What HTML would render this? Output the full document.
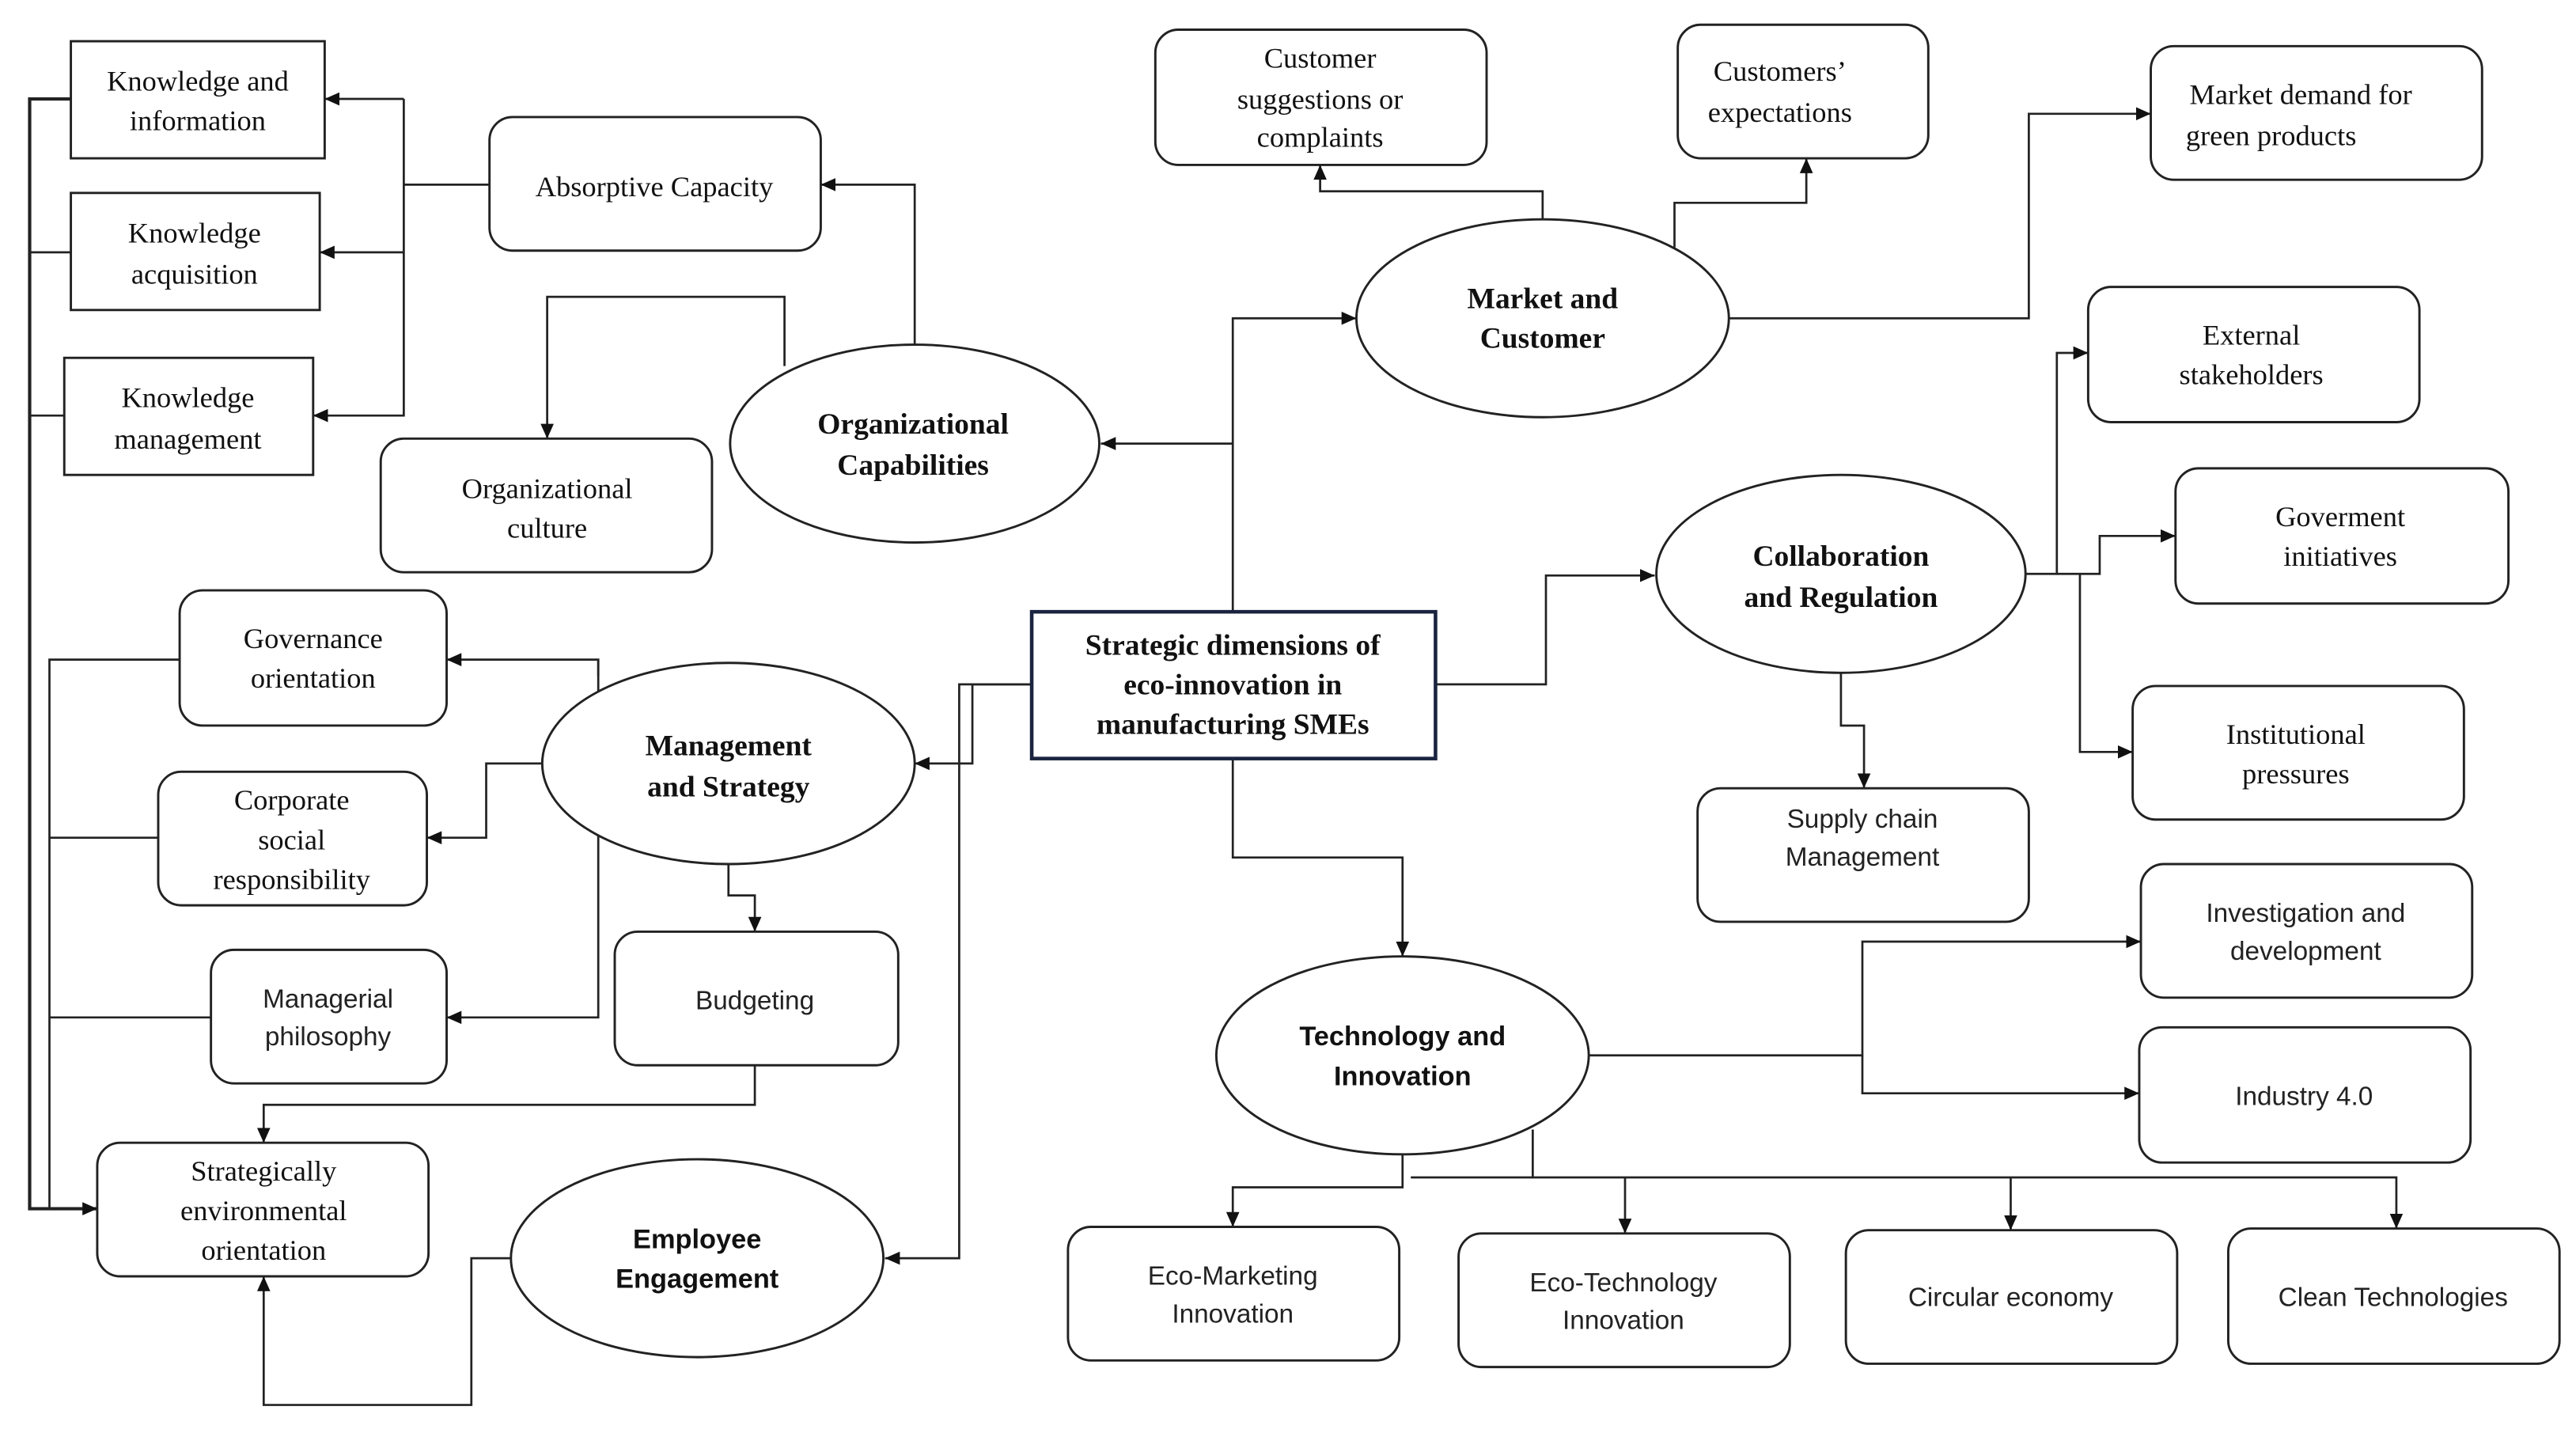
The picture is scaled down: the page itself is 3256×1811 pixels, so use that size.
<!DOCTYPE html>
<html><head><meta charset="utf-8"><style>
html,body{margin:0;padding:0;background:#fff;}
svg{display:block;}
.s{font-family:"Liberation Serif",serif;font-size:17.5px;fill:#111;}
.sb{font-family:"Liberation Serif",serif;font-size:18px;font-weight:bold;fill:#111;}
.a{font-family:"Liberation Sans",sans-serif;font-size:16px;fill:#222;}
.ab{font-family:"Liberation Sans",sans-serif;font-size:16.5px;font-weight:bold;fill:#111;}
rect,ellipse{fill:#fff;stroke:#222;stroke-width:1.4;}
path{fill:none;stroke:#222;stroke-width:1.3;}
</style></head><body>
<svg width="3256" height="1811" viewBox="0 0 1563 869" preserveAspectRatio="none" xmlns="http://www.w3.org/2000/svg">
<defs><marker id="m" markerWidth="10" markerHeight="10" refX="9" refY="5" orient="auto" markerUnits="userSpaceOnUse"><path d="M0,1 L9,5 L0,9 Z" style="fill:#111;stroke:none"/></marker></defs>
<g text-anchor="middle">
<path d="M297,112 H245"/>
<path d="M245,60 V252 H190" marker-end="url(#m)"/>
<path d="M245,60 H197" marker-end="url(#m)"/>
<path d="M245,153 H194" marker-end="url(#m)"/>
<path d="M555,210 V112 H498" marker-end="url(#m)"/>
<path d="M476,222 V180 H332 V266" marker-end="url(#m)"/>
<path d="M43,60 H18 V733 H59" marker-end="url(#m)" style="stroke-width:2"/>
<path d="M43,153 H18 M39,252 H18"/>
<path d="M109,400 H30 V733 M96,508 H30 M128,617 H30"/>
<path d="M363,410 V400 H271" marker-end="url(#m)"/>
<path d="M363,400 V617 H271" marker-end="url(#m)"/>
<path d="M330,463 H295 V508 H259" marker-end="url(#m)"/>
<path d="M442,524 V543 H458 V565" marker-end="url(#m)"/>
<path d="M458,646 V670 H160 V693" marker-end="url(#m)"/>
<path d="M311,763 H286 V852 H160 V774" marker-end="url(#m)"/>
<path d="M626,415 H590 V463 H555" marker-end="url(#m)"/>
<path d="M626,415 H582 V763 H537" marker-end="url(#m)"/>
<path d="M748,371 V269 H668" marker-end="url(#m)"/>
<path d="M748,269 V193 H823" marker-end="url(#m)"/>
<path d="M748,460 V520 H851 V580" marker-end="url(#m)"/>
<path d="M871,415 H938 V349 H1004" marker-end="url(#m)"/>
<path d="M936,133 V116 H801 V100" marker-end="url(#m)"/>
<path d="M1016,150 V123 H1096 V96" marker-end="url(#m)"/>
<path d="M1049,193 H1231 V69 H1305" marker-end="url(#m)"/>
<path d="M1229,348 H1248 V214 H1267" marker-end="url(#m)"/>
<path d="M1248,348 H1274 V325 H1320" marker-end="url(#m)"/>
<path d="M1262,348 V456 H1294" marker-end="url(#m)"/>
<path d="M1117,408 V440 H1131 V478" marker-end="url(#m)"/>
<path d="M964,640 H1130 V571 H1299" marker-end="url(#m)"/>
<path d="M1130,640 V663 H1298" marker-end="url(#m)"/>
<path d="M851,700 V720 H748 V744" marker-end="url(#m)"/>
<path d="M930,685 V714 H1454 V745" marker-end="url(#m)"/>
<path d="M856,714 H930"/>
<path d="M986,714 V748" marker-end="url(#m)"/>
<path d="M1220,714 V746" marker-end="url(#m)"/>

<rect x="43" y="25" width="154" height="71"/>
<text class="s" x="120" y="55">Knowledge  and</text><text class="s" x="120" y="79">information</text>
<rect x="43" y="117" width="151" height="71"/>
<text class="s" x="118" y="147">Knowledge</text><text class="s" x="118" y="172">acquisition</text>
<rect x="39" y="217" width="151" height="71"/>
<text class="s" x="114" y="247">Knowledge</text><text class="s" x="114" y="272">management</text>
<rect x="297" y="71" width="201" height="81" rx="14"/>
<text class="s" x="397" y="119">Absorptive  Capacity</text>
<rect x="231" y="266" width="201" height="81" rx="14"/>
<text class="s" x="332" y="302">Organizational</text><text class="s" x="332" y="326">culture</text>
<ellipse cx="555" cy="269" rx="112" ry="60"/>
<text class="sb" x="554" y="263">Organizational</text><text class="sb" x="554" y="288">Capabilities</text>
<rect x="109" y="358" width="162" height="82" rx="14"/>
<text class="s" x="190" y="393">Governance</text><text class="s" x="190" y="417">orientation</text>
<rect x="96" y="468" width="163" height="81" rx="14"/>
<text class="s" x="177" y="491">Corporate</text><text class="s" x="177" y="515">social</text><text class="s" x="177" y="539">responsibility</text>
<rect x="128" y="576" width="143" height="81" rx="14"/>
<text class="a" x="199" y="611">Managerial</text><text class="a" x="199" y="634">philosophy</text>
<rect x="373" y="565" width="172" height="81" rx="14"/>
<text class="a" x="458" y="612">Budgeting</text>
<rect x="59" y="693" width="201" height="81" rx="14"/>
<text class="s" x="160" y="716">Strategically</text><text class="s" x="160" y="740">environmental</text><text class="s" x="160" y="764">orientation</text>
<ellipse cx="442" cy="463" rx="113" ry="61"/>
<text class="sb" x="442" y="458">Management</text><text class="sb" x="442" y="483">and Strategy</text>
<ellipse cx="423" cy="763" rx="113" ry="60"/>
<text class="ab" x="423" y="757">Employee</text><text class="ab" x="423" y="781">Engagement</text>

<rect x="626" y="371" width="245" height="89" style="stroke:#1a2440;stroke-width:2.2"/>
<text class="sb" x="748" y="397">Strategic dimensions  of</text><text class="sb" x="748" y="421">eco-innovation  in</text><text class="sb" x="748" y="445">manufacturing  SMEs</text>

<rect x="701" y="18" width="201" height="82" rx="14"/>
<text class="s" x="801" y="41">Customer</text><text class="s" x="801" y="66">suggestions  or</text><text class="s" x="801" y="89">complaints</text>
<rect x="1018" y="15" width="152" height="81" rx="14"/>
<text class="s" x="1080" y="49">Customers’</text><text class="s" x="1080" y="74">expectations</text>
<rect x="1305" y="28" width="201" height="81" rx="14"/>
<text class="s" x="1396" y="63">Market demand  for</text><text class="s" x="1378" y="88">green  products</text>
<ellipse cx="936" cy="193" rx="113" ry="60"/>
<text class="sb" x="936" y="187">Market and</text><text class="sb" x="936" y="211">Customer</text>
<rect x="1267" y="174" width="201" height="82" rx="14"/>
<text class="s" x="1366" y="209">External</text><text class="s" x="1366" y="233">stakeholders</text>
<rect x="1320" y="284" width="202" height="82" rx="14"/>
<text class="s" x="1420" y="319">Goverment</text><text class="s" x="1420" y="343">initiatives</text>
<rect x="1294" y="416" width="201" height="81" rx="14"/>
<text class="s" x="1393" y="451">Institutional</text><text class="s" x="1393" y="475">pressures</text>
<ellipse cx="1117" cy="348" rx="112" ry="60"/>
<text class="sb" x="1117" y="343">Collaboration</text><text class="sb" x="1117" y="368">and Regulation</text>
<rect x="1030" y="478" width="201" height="81" rx="14"/>
<text class="a" x="1130" y="502">Supply chain</text><text class="a" x="1130" y="525">Management</text>
<ellipse cx="851" cy="640" rx="113" ry="60"/>
<text class="ab" x="851" y="634">Technology and</text><text class="ab" x="851" y="658">Innovation</text>
<rect x="1299" y="524" width="201" height="81" rx="14"/>
<text class="a" x="1399" y="559">Investigation and</text><text class="a" x="1399" y="582">development</text>
<rect x="1298" y="623" width="201" height="82" rx="14"/>
<text class="a" x="1398" y="670">Industry 4.0</text>
<rect x="648" y="744" width="201" height="81" rx="14"/>
<text class="a" x="748" y="779">Eco-Marketing</text><text class="a" x="748" y="802">Innovation</text>
<rect x="885" y="748" width="201" height="81" rx="14"/>
<text class="a" x="985" y="783">Eco-Technology</text><text class="a" x="985" y="806">Innovation</text>
<rect x="1120" y="746" width="201" height="81" rx="14"/>
<text class="a" x="1220" y="792">Circular economy</text>
<rect x="1352" y="745" width="201" height="82" rx="14"/>
<text class="a" x="1452" y="792">Clean Technologies</text>
</g>
</svg>
</body></html>
